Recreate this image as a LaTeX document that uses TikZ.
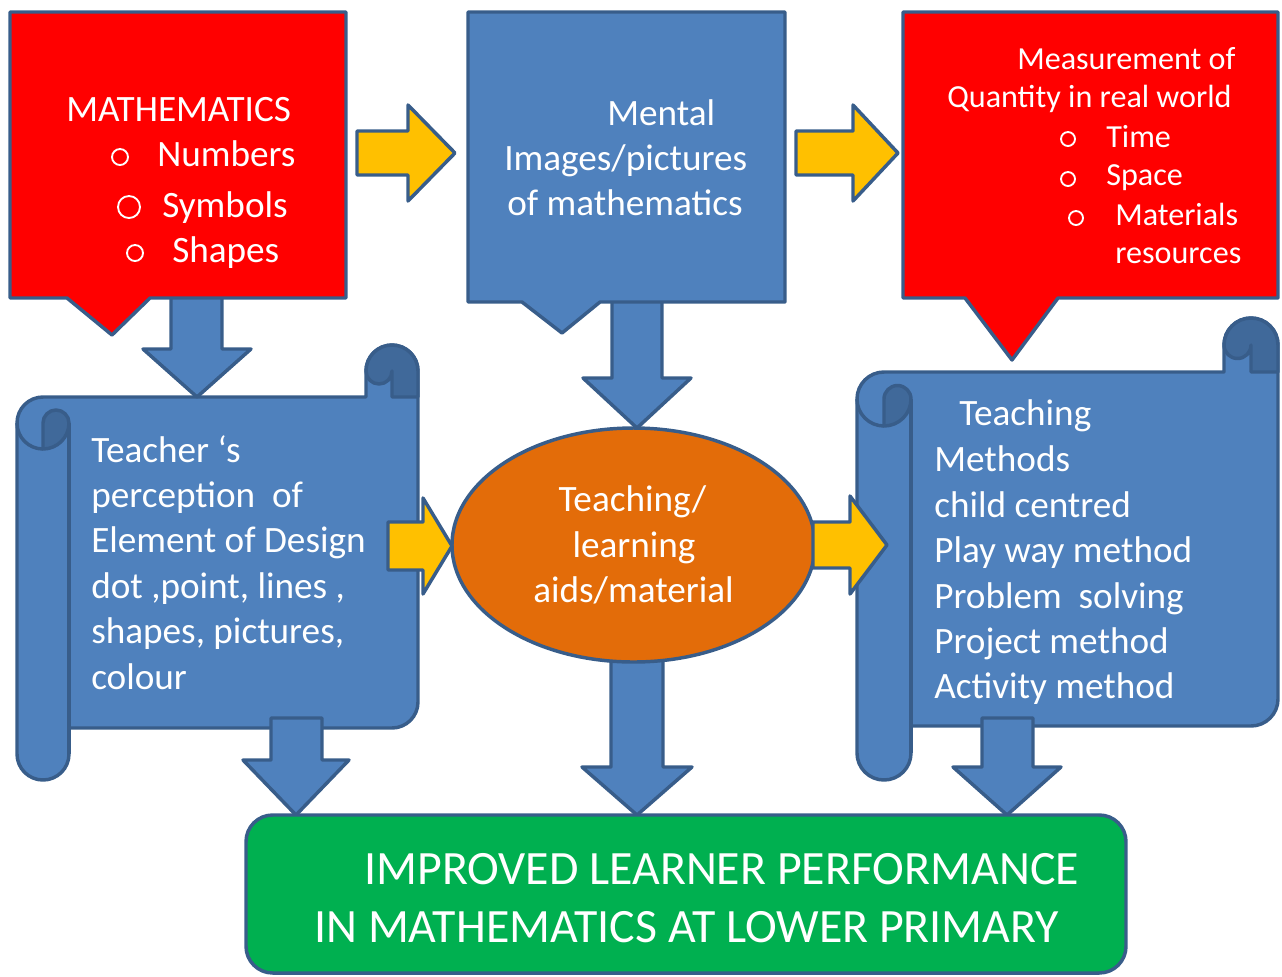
\documentclass[tikz,border=0pt]{standalone}
\usepackage{fontspec}
\setmainfont{Carlito}
\usetikzlibrary{shapes.geometric}
\definecolor{blueFill}{HTML}{4F81BD}
\definecolor{blueLine}{HTML}{385D8A}
\definecolor{blueDark}{HTML}{40699A}
\definecolor{redFill}{HTML}{FF0000}
\definecolor{yellowFill}{HTML}{FFC000}
\definecolor{orangeFill}{HTML}{E36C09}
\definecolor{greenFill}{HTML}{00B050}

\tikzset{
  shapeline/.style={draw=blueLine, line width=2.6pt, line join=round},
  bluebox/.style={shapeline, fill=blueFill},
  redbox/.style={shapeline, fill=redFill},
  yellowarrow/.style={shapeline, fill=yellowFill},
  curl/.style={shapeline, fill=blueDark},
  txt/.style={text=white, inner sep=0pt, anchor=base west,
              font=\fontsize{27.9}{33}\selectfont},
  ctxt/.style={txt, anchor=base},
  smalltxt/.style={txt, font=\fontsize{24.1}{28}\selectfont},
  bigtxt/.style={txt, font=\fontsize{35.9}{42}\selectfont},
  bulletmark/.style={draw=white, line width=1.4pt},
}

% vertical scroll: left, right, top, bottom, roll width
\newcommand{\drawscroll}[5]{%
  \pgfmathsetmacro{\scrL}{#1}\pgfmathsetmacro{\scrR}{#2}%
  \pgfmathsetmacro{\scrT}{#3}\pgfmathsetmacro{\scrB}{#4}%
  \pgfmathsetmacro{\scrC}{#5}\pgfmathsetmacro{\scrH}{#5/2}\pgfmathsetmacro{\scrQ}{#5/4}%
  \path[bluebox] (\scrL,\scrB-\scrH) arc[start angle=180, end angle=0, radius=\scrH]
    -- (\scrL+\scrC,\scrB-\scrC) -- (\scrR-\scrH,\scrB-\scrC)
    arc[start angle=90, end angle=0, radius=\scrH]
    -- (\scrR,\scrT+\scrH) arc[start angle=0, end angle=-180, radius=\scrH]
    -- (\scrR-\scrC,\scrT+\scrC) -- (\scrL+\scrH,\scrT+\scrC)
    arc[start angle=-90, end angle=-180, radius=\scrH] -- cycle;
  \draw[shapeline] (\scrL+\scrC,\scrT+\scrC+\scrH) -- (\scrL+\scrC,\scrB-\scrH);
  \draw[shapeline] (\scrL,\scrT+\scrC+\scrH) arc[start angle=180, end angle=90, radius=\scrH];
  \path[curl] (\scrL+\scrH,\scrT+\scrC+\scrH) -- (\scrL+\scrH,\scrT+\scrC+\scrC)
    arc[start angle=90, end angle=0, radius=\scrH]
    arc[start angle=0, end angle=-180, radius=\scrQ] -- cycle;
  \path[curl] (\scrR-\scrC,\scrT+\scrH) arc[start angle=180, end angle=360, radius=\scrH]
    -- (\scrR,\scrT+\scrC) -- (\scrR-\scrH,\scrT+\scrC) -- (\scrR-\scrH,\scrT+\scrH)
    arc[start angle=0, end angle=180, radius=\scrQ] -- cycle;
}

% downward block arrow: shaft left, shaft right, shaft top, head top, head left, head right, tip y
\newcommand{\blockdown}[7]{%
  \path[bluebox] (#1,#3) -- (#2,#3) -- (#2,#4) -- (#6,#4) -- ({(#5+#6)/2},#7)
    -- (#5,#4) -- (#1,#4) -- cycle;
}
% rightward block arrow: tail x, head x, tip x, mid y, half shaft, half head
\newcommand{\blockright}[6]{%
  \path[yellowarrow] (#1,#4-#5) -- (#2,#4-#5) -- (#2,#4-#6) -- (#3,#4)
    -- (#2,#4+#6) -- (#2,#4+#5) -- (#1,#4+#5) -- cycle;
}

\begin{document}
\begin{tikzpicture}[x=0.75pt, y=-0.75pt]
\useasboundingbox (0,0) rectangle (1282,976);

% scrolls
\drawscroll{17}{418}{345}{780}{52}
\drawscroll{857}{1278}{318}{780}{54}

% blue block arrows
\blockdown{171}{222}{290}{349}{143}{251}{397}
\blockdown{612}{662}{295}{378}{583}{691}{428}
\blockdown{271}{322}{718}{760}{243}{349}{815}
\blockdown{611}{663}{640}{767}{582}{692}{815}
\blockdown{982}{1033}{718}{767}{953}{1061}{815}

% central ellipse
\node[shapeline, fill=orangeFill, ellipse, minimum width=363*0.75pt,
      minimum height=234*0.75pt, inner sep=0pt] (aids) at (633.5,545) {};

% callouts
\path[redbox] (10,12) -- (346,12) -- (346,298) -- (150,298) -- (112,335)
  -- (67,298) -- (10,298) -- cycle;
\path[bluebox] (468,12) -- (785,12) -- (785,302) -- (600,302) -- (562,333)
  -- (522,302) -- (468,302) -- cycle;
\path[redbox] (903,12) -- (1278,12) -- (1278,298) -- (1058,298) -- (1012,360)
  -- (965,298) -- (903,298) -- cycle;

% yellow block arrows
\blockright{357}{408}{455}{153}{22}{48}
\blockright{796}{853}{898}{153}{22}{48}
\blockright{388}{423}{452}{546}{24}{48}
\blockright{813}{850}{887}{545}{23}{49}

% outcome box
\path[shapeline, fill=greenFill, rounded corners=20] (246,815) rectangle (1126,973);

% mathematics callout text
\node[txt] (m1) at (66,121) {MATHEMATICS};
\node[txt] (m2) at (157,166) {Numbers};
\node[txt] (m3) at (162,217) {Symbols};
\node[txt] (m4) at (172,262) {Shapes};
\draw[bulletmark] (120,157) circle (8);
\draw[bulletmark] (129,207) circle (11);
\draw[bulletmark] (135,253) circle (8);

% mental images text
\node[txt] (i1) at (607,125) {Mental};
\node[txt] (i2) at (504,170) {Images/pictures};
\node[txt] (i3) at (507,215) {of mathematics};

% measurement text
\node[smalltxt] (q1) at (1017,69) {Measurement of};
\node[smalltxt] (q2) at (947,107) {Quantity in real world};
\node[smalltxt] (q3) at (1106,147) {Time};
\node[smalltxt] (q4) at (1106,185) {Space};
\node[smalltxt] (q5) at (1115,225) {Materials};
\node[smalltxt] (q6) at (1115,263) {resources};
\draw[bulletmark] (1068,139) circle (7);
\draw[bulletmark] (1068,179) circle (7);
\draw[bulletmark] (1076,218) circle (7);

% teacher's perception text
\node[txt] (p1) at (91,462) {Teacher ‘s};
\node[txt] (p2) at (91,507) {perception\ \ of};
\node[txt] (p3) at (91,552) {Element of Design};
\node[txt] (p4) at (91,598) {dot ,point, lines ,};
\node[txt] (p5) at (91,643) {shapes, pictures,};
\node[txt] (p6) at (91,689) {colour};

% teaching methods text
\node[txt] (t1) at (959,425) {Teaching};
\node[txt] (t2) at (934,471) {Methods};
\node[txt] (t3) at (934,517) {child centred};
\node[txt] (t4) at (934,562) {Play way method};
\node[txt] (t5) at (934,608) {Problem\ \ solving};
\node[txt] (t6) at (934,653) {Project method};
\node[txt] (t7) at (934,698) {Activity method};

% teaching aids text
\node[ctxt] (a1) at (632.5,511) {Teaching/};
\node[ctxt] (a2) at (634,557) {learning};
\node[ctxt] (a3) at (633.5,602) {aids/material};

% outcome text
\node[bigtxt] (g1) at (364,884) {IMPROVED LEARNER PERFORMANCE};
\node[bigtxt] (g2) at (314,942) {IN MATHEMATICS AT LOWER PRIMARY};
\end{tikzpicture}
\end{document}
